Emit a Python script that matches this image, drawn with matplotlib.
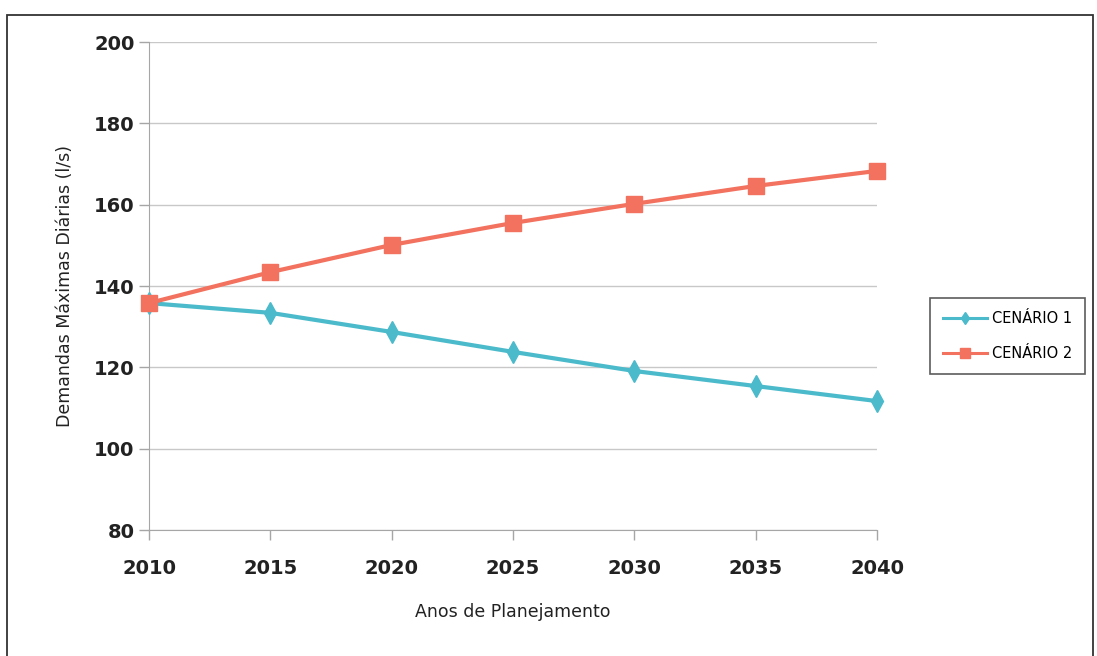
import matplotlib
matplotlib.use("Agg")
import matplotlib.pyplot as plt
from matplotlib.patches import Rectangle

anos = [2010, 2015, 2020, 2025, 2030, 2035, 2040]
cenario_1 = [135.8, 133.4, 128.7, 123.8, 119.1, 115.4, 111.7]
cenario_2 = [135.8, 143.4, 150.1, 155.5, 160.2, 164.6, 168.3]
y_ticks = [80, 100, 120, 140, 160, 180, 200]

W, H = 1097, 656
fig = plt.figure(figsize=(W / 100, H / 100), dpi=100)
fig.patch.set_facecolor("white")

# outer frame of the chart area
fig.add_artist(Rectangle((7 / W, -0.05), 1086 / W, 1.05 - 15 / H,
                         transform=fig.transFigure, fill=False,
                         edgecolor="#333333", linewidth=1.3))

ax = fig.add_axes([149 / W, 1 - 530 / H, (877 - 149) / W, (530 - 42) / H])

c1 = "#4BBACB"
c2 = "#F2715F"
ax.plot(anos, cenario_1, color=c1, linewidth=3, marker="d", markersize=11,
        label="CENÁRIO 1", zorder=3, clip_on=False)
ax.plot(anos, cenario_2, color=c2, linewidth=3, marker="s", markersize=12,
        label="CENÁRIO 2", zorder=4, clip_on=False)

ax.set_xlim(2010, 2040)
ax.set_ylim(80, 200)
ax.set_xticks(anos)
ax.set_yticks(y_ticks)
ax.yaxis.grid(True, color="#C8C8C8", linewidth=1)
ax.set_axisbelow(True)

for s in ["top", "right"]:
    ax.spines[s].set_visible(False)
ax.spines["left"].set_color("#A6A6A6")
ax.spines["bottom"].set_color("#A6A6A6")
ax.tick_params(axis="both", colors="#A6A6A6", length=7, width=1,
               labelcolor="#222222", labelsize=14)
ax.tick_params(axis="x", pad=14)
for lab in ax.get_xticklabels() + ax.get_yticklabels():
    lab.set_fontweight("bold")
    lab.set_family("DejaVu Sans")

ax.set_xlabel("Anos de Planejamento", fontsize=12.5, labelpad=18, color="#222222")
ax.set_ylabel("Demandas Máximas Diárias (l/s)", fontsize=12.5, labelpad=14,
              color="#222222")

leg = fig.legend(loc="center left", bbox_to_anchor=(930 / W, 1 - 336 / H),
                 borderaxespad=0,
                 fontsize=10.5, frameon=True, fancybox=False, edgecolor="#333333",
                 handlelength=3.0, borderpad=0.9, labelspacing=1.4,
                 handletextpad=0.35, markerscale=0.6)
leg.get_frame().set_linewidth(1.2)
for line in leg.get_lines():
    line.set_linewidth(2.2)

fig.savefig("out.png", dpi=100)
